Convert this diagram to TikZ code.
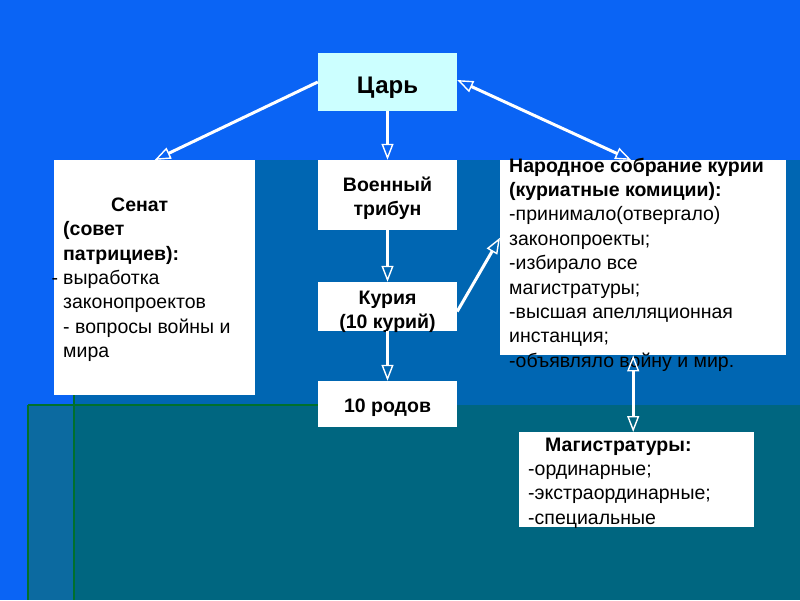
\documentclass[tikz,border=0pt]{standalone}
\usepackage{fontspec}
\setmainfont{Liberation Sans}
\usepackage{xcolor}
\usepackage{tikz}
\usetikzlibrary{arrows.meta,positioning}
\definecolor{bgblue}{RGB}{10,100,245}
\definecolor{bandblue}{RGB}{0,102,178}
\definecolor{bgteal}{RGB}{0,102,128}
\definecolor{stripblue}{RGB}{12,106,160}
\definecolor{linegreen}{RGB}{0,112,45}
\definecolor{tsarcolor}{RGB}{204,255,255}
\tikzset{
  box/.style={
    fill=white,
    inner sep=0pt
  },
  tsar box/.style={
    box,
    fill=tsarcolor
  },
  ctxt/.style={
    inner sep=0pt,
    align=center,
    font=\fontsize{19.5}{24.5}\selectfont\bfseries
  },
  txt/.style={
    inner sep=0pt,
    align=left,
    anchor=north west,
    font=\fontsize{19.5}{24.4}\selectfont
  },
  link/.style={
    white,
    line width=3pt,
    -{Triangle[open, length=16pt, width=12pt, line width=1.4pt]}
  },
  dlink/.style={
    link,
    {Triangle[open, length=16pt, width=12pt, line width=1.4pt]}-{Triangle[open, length=16pt, width=12pt, line width=1.4pt]}
  }
}

\begin{document}
\begin{tikzpicture}[x=1pt, y=-1pt]
  \useasboundingbox (0,0) rectangle (800,600);

  % Background
  \fill[bgblue] (0,0) rectangle (800,600);
  \fill[bandblue] (74,160) rectangle (800,405);
  \fill[bgteal] (74,405) rectangle (800,600);
  \fill[stripblue] (28,405) rectangle (74,600);
  \draw[linegreen, line width=2pt] (28,405) -- (318,405);
  \draw[linegreen, line width=2pt] (28,405) -- (28,600);
  \draw[linegreen, line width=2pt] (74,395) -- (74,600);

  % Boxes
  \node[tsar box, minimum width=139pt, minimum height=58pt] (tsar) at (387.5,82) {};
  \node[box, minimum width=139pt, minimum height=70pt] (mil) at (387.5,195) {};
  \node[box, minimum width=139pt, minimum height=49pt] (curia) at (387.5,306.5) {};
  \node[box, minimum width=139pt, minimum height=46pt] (rody) at (387.5,404) {};
  \node[box, minimum width=201pt, minimum height=235pt, anchor=north west] (senat) at (54,160) {};
  \node[box, minimum width=286pt, minimum height=195pt, anchor=north west] (narod) at (500,160) {};
  \node[box, minimum width=235pt, minimum height=95pt, anchor=north west] (mag) at (519,432) {};

  % Texts
  \node[ctxt, font=\fontsize{24}{28}\selectfont\bfseries] (tsartxt) at (387.5,88) {Царь};
  \node[ctxt] (miltxt) at (387.5,198.5) {Военный\\трибун};
  \node[ctxt] (curiatxt) at (387.5,312) {Курия\\(10 курий)};
  \node[ctxt] (rodytxt) at (387.5,408) {10 родов};
  \node[txt] (senattxt) at (63,197.5) {%
    \hspace*{48pt}\textbf{Сенат}\\
    \textbf{(совет}\\
    \textbf{патрициев):}\\
    \llap{-\hspace{5pt}}выработка\\
    законопроектов\\
    - вопросы войны и\\
    мира};
  \node[txt] (narodtxt) at (509,157.5) {%
    \textbf{Народное собрание курии}\\
    \textbf{(куриатные комиции):}\\
    -принимало(отвергало)\\
    законопроекты;\\
    -избирало все\\
    магистратуры;\\
    -высшая апелляционная\\
    инстанция;\\
    -объявляло войну и мир.};
  \node[txt] (magtxt) at (528,437.5) {%
    \hspace*{17pt}\textbf{Магистратуры:}\\
    -ординарные;\\
    -экстраординарные;\\
    -специальные};

  % Connectors
  \draw[link] (tsar.west) -- (senat.north);
  \draw[dlink] ([yshift=2pt]tsar.east) -- ([xshift=-12pt]narod.north);
  \foreach \a/\b in {tsar/mil, mil/curia, curia/rody}
    \draw[link] (\a.south) -- (\b.north);
  \draw[link] ([yshift=-5pt]curia.east) -- ([yshift=20pt]narod.west);
  \draw[dlink] ([xshift=-10pt]narod.south) -- ([xshift=-3.5pt]mag.north);
\end{tikzpicture}
\end{document}
